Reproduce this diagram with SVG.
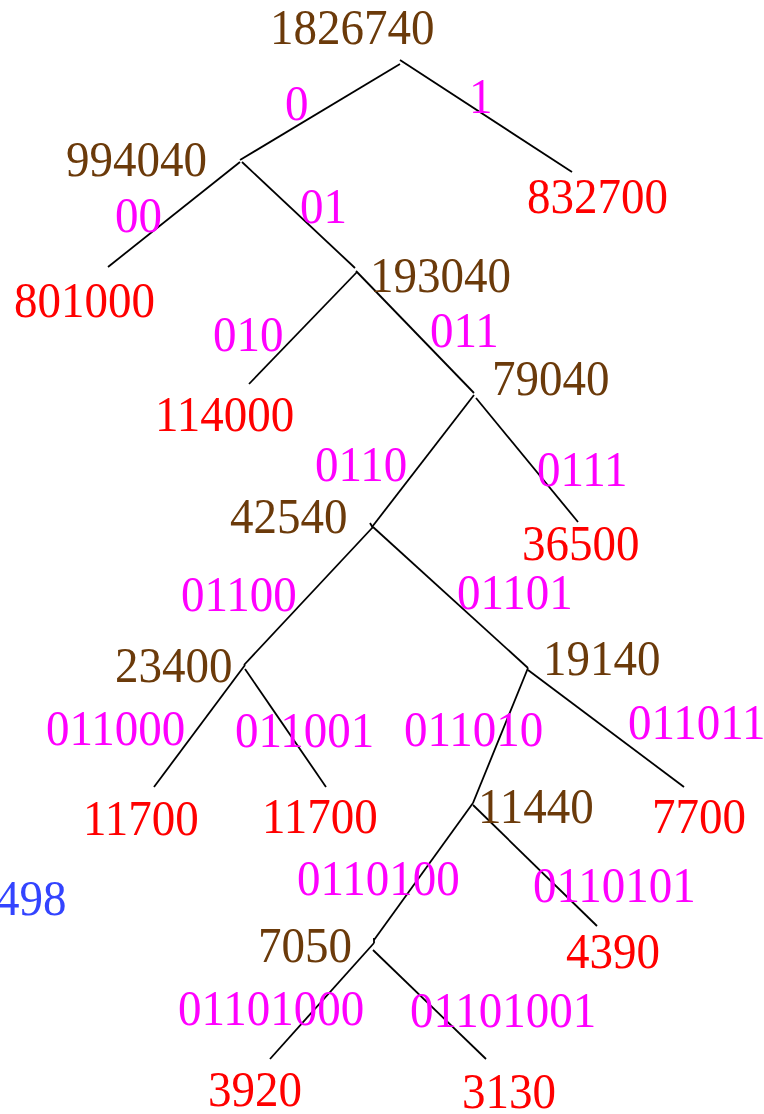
<svg xmlns="http://www.w3.org/2000/svg" width="764" height="1114" viewBox="0 0 764 1114">
<style>
text{font-family:"Liberation Serif","Times New Roman",serif;font-size:50px;transform-box:fill-box;transform-origin:0 0;transform:scaleX(0.94)}
.n{fill:#6B3A0A}
.l{fill:#FF0000}
.c{fill:#FF00FF}
.b{fill:#3344FF}
.e{stroke:#000;stroke-width:1.8;fill:none}
</style>
<rect width="764" height="1114" fill="#fff"/>
<g id="connectors">
<line class="e" x1="400" y1="60" x2="572" y2="172"/>
<line class="e" x1="400" y1="64" x2="240" y2="160"/>
<line class="e" x1="240" y1="162" x2="108" y2="267"/>
<line class="e" x1="242" y1="162" x2="355" y2="268"/>
<line class="e" x1="357" y1="272" x2="249" y2="384"/>
<line class="e" x1="356" y1="271" x2="474" y2="393"/>
<line class="e" x1="474" y1="395" x2="372" y2="527"/>
<line class="e" x1="476" y1="398" x2="578" y2="522"/>
<line class="e" x1="370" y1="523" x2="373" y2="528"/>
<line class="e" x1="373" y1="527" x2="244" y2="665"/>
<line class="e" x1="373" y1="527" x2="528" y2="668"/>
<line class="e" x1="245" y1="665" x2="154" y2="787"/>
<line class="e" x1="245" y1="669" x2="326" y2="787"/>
<line class="e" x1="528" y1="668" x2="473" y2="803"/>
<line class="e" x1="528" y1="670" x2="684" y2="787"/>
<line class="e" x1="473" y1="803" x2="374" y2="940"/>
<line class="e" x1="473" y1="805" x2="597" y2="926"/>
<line class="e" x1="374" y1="938" x2="374" y2="943"/>
<line class="e" x1="374" y1="943" x2="270" y2="1059"/>
<line class="e" x1="373" y1="950" x2="486" y2="1059"/>
</g>
<g id="n1826740"><text class="n" x="270" y="44">1826740</text></g>
<g id="n994040"><text class="n" x="66" y="176">994040</text></g>
<g id="n832700"><text class="l" x="527" y="213">832700</text></g>
<g id="n801000"><text class="l" x="14" y="317">801000</text></g>
<g id="n193040"><text class="n" x="370" y="292">193040</text></g>
<g id="n114000"><text class="l" x="155" y="431">114000</text></g>
<g id="n79040"><text class="n" x="492" y="395">79040</text></g>
<g id="n42540"><text class="n" x="230" y="533">42540</text></g>
<g id="n36500"><text class="l" x="522" y="560">36500</text></g>
<g id="n23400"><text class="n" x="115" y="682">23400</text></g>
<g id="n19140"><text class="n" x="543" y="675">19140</text></g>
<g id="n11700a"><text class="l" x="83" y="835">11700</text></g>
<g id="n11700b"><text class="l" x="262" y="833">11700</text></g>
<g id="n11440"><text class="n" x="478" y="823">11440</text></g>
<g id="n7700"><text class="l" x="652" y="833">7700</text></g>
<g id="n7050"><text class="n" x="258" y="962">7050</text></g>
<g id="n4390"><text class="l" x="566" y="968">4390</text></g>
<g id="n3920"><text class="l" x="208" y="1106">3920</text></g>
<g id="n3130"><text class="l" x="462" y="1108">3130</text></g>
<g id="codes">
<text class="c" x="285" y="120">0</text>
<text class="c" x="469" y="113">1</text>
<text class="c" x="115" y="232">00</text>
<text class="c" x="300" y="223">01</text>
<text class="c" x="213" y="351">010</text>
<text class="c" x="430" y="347">011</text>
<text class="c" x="315" y="481">0110</text>
<text class="c" x="537" y="486">0111</text>
<text class="c" x="181" y="611">01100</text>
<text class="c" x="457" y="609">01101</text>
<text class="c" x="46" y="745">011000</text>
<text class="c" x="235" y="747">011001</text>
<text class="c" x="404" y="746">011010</text>
<text class="c" x="628" y="739">011011</text>
<text class="c" x="297" y="895">0110100</text>
<text class="c" x="533" y="902">0110101</text>
<text class="c" x="178" y="1025">01101000</text>
<text class="c" x="410" y="1027">01101001</text>
</g>
<g id="n498"><text class="b" x="-4" y="915">498</text></g>
</svg>
